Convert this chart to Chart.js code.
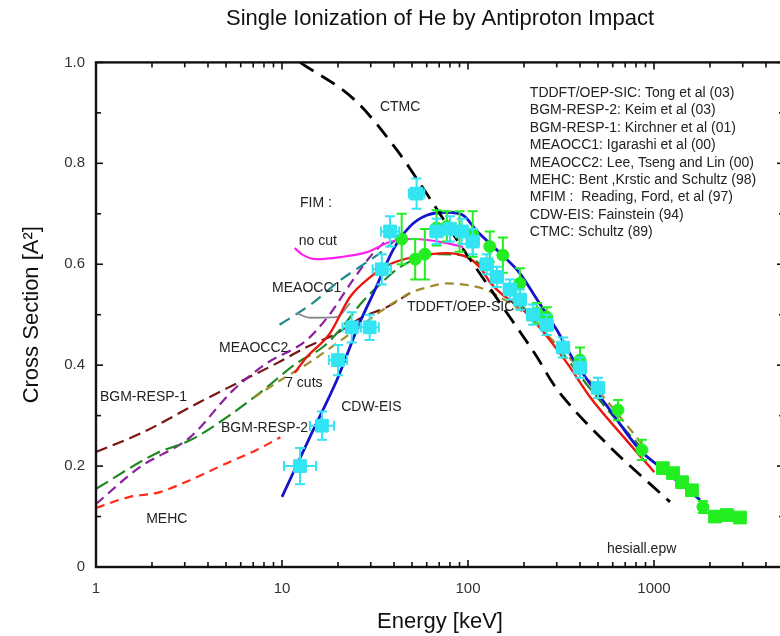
<!DOCTYPE html>
<html><head><meta charset="utf-8">
<title>Single Ionization of He by Antiproton Impact</title>
<script src="https://cdn.jsdelivr.net/npm/chart.js@4.4.1/dist/chart.umd.min.js"></script>
<style>
html,body{margin:0;padding:0;background:#fff;overflow:hidden;width:780px;height:636px;}
#wrap{position:absolute;left:0;top:0;width:800px;height:636px;}
canvas{display:block;}
</style></head><body>
<div id="wrap"><canvas id="chart" width="800" height="636"></canvas></div>
<script>
// ---------------- data ----------------
const titleText = 'Single Ionization of He by Antiproton Impact';
const xTitle = 'Energy [keV]';
const yTitle = 'Cross Section [A\u00B2]';
const xTickValues = [1, 10, 100, 1000];
const xTickLabels = ['1', '10', '100', '1000'];
const yTickValues = [0, 0.2, 0.4, 0.6, 0.8, 1.0];
const yTickLabels = ['0', '0.2', '0.4', '0.6', '0.8', '1.0'];

// CTMC (Schultz 89)
const ctmcE = [12.5, 24.7, 41.5, 55.2, 87.3, 126, 168, 235, 286, 324, 580, 1219];
const ctmcS = [1.0, 0.925, 0.826, 0.760, 0.648, 0.562, 0.495, 0.416, 0.364, 0.337, 0.238, 0.129];
// CDW-EIS (Fainstein 94)
const cdwE = [10, 14.1, 19.7, 26.1, 31.6, 39.5, 48.8, 60, 77, 94, 111, 143, 190, 235, 300, 370, 580, 840, 1080, 1770];
const cdwS = [0.139, 0.257, 0.370, 0.483, 0.549, 0.628, 0.675, 0.697, 0.703, 0.697, 0.667, 0.628, 0.582, 0.530, 0.470, 0.410, 0.311, 0.232, 0.198, 0.133];
// FIM 7 cuts
const fim7E = [11.7, 13.6, 18.1, 23.2, 29.7, 38.1, 50.7, 77, 98.6, 116, 131, 153, 190, 224, 341, 453, 712, 1003];
const fim7S = [0.385, 0.416, 0.463, 0.535, 0.574, 0.600, 0.614, 0.622, 0.614, 0.594, 0.565, 0.540, 0.515, 0.490, 0.404, 0.337, 0.251, 0.188];
// FIM no cut
const fimNoCutE = [11.7, 13, 15.4, 20.5, 28.6, 38, 50.7, 77, 94];
const fimNoCutS = [0.632, 0.618, 0.610, 0.614, 0.624, 0.644, 0.650, 0.642, 0.634];
// MEAOCC1 (solid grey part)
const meaocc1bE = [12, 14.1, 19.7, 23.2];
const meaocc1bS = [0.503, 0.494, 0.495, 0.523];
// MEAOCC1 (dashed)
const meaocc1E = [9.7, 14.6, 20.5, 26, 33, 43];
const meaocc1S = [0.480, 0.523, 0.568, 0.594, 0.620, 0.655];
// MEAOCC2
const meaocc2E = [1, 1.72, 3.2, 5.45, 8.3, 13.6, 18, 24, 30.6, 38];
const meaocc2S = [0.125, 0.198, 0.257, 0.350, 0.404, 0.450, 0.500, 0.568, 0.620, 0.653];
// BGM-RESP-1
const bgm1E = [1, 1.79, 3.62, 5.71, 9.4, 13.6, 19.7, 27, 36.6, 48.8];
const bgm1S = [0.228, 0.267, 0.327, 0.364, 0.404, 0.436, 0.463, 0.495, 0.515, 0.543];
// BGM-RESP-2
const bgm2E = [1, 2.13, 3.2, 5.25, 7.9, 12, 16.6, 20.5, 27, 33.6, 41.5, 50.7, 70, 100, 130, 170, 230, 320, 450, 650, 900];
const bgm2S = [0.155, 0.226, 0.251, 0.301, 0.350, 0.404, 0.436, 0.470, 0.525, 0.560, 0.590, 0.608, 0.620, 0.615, 0.585, 0.545, 0.485, 0.425, 0.355, 0.285, 0.228];
// TDDFT/OEP-SIC
const tddftE = [7, 10, 14, 20, 27, 36.6, 48.8, 60, 77, 102, 126, 148, 190, 250, 350, 500, 700, 900];
const tddftS = [0.335, 0.372, 0.405, 0.445, 0.480, 0.515, 0.543, 0.554, 0.562, 0.558, 0.549, 0.535, 0.510, 0.470, 0.415, 0.350, 0.285, 0.235];
// MEHC
const mehcE = [1, 1.52, 2.13, 3.2, 4.8, 7.3, 9.8];
const mehcS = [0.117, 0.139, 0.147, 0.172, 0.202, 0.232, 0.257];

// Experiment (cyan squares)
const cyanE = [12.5, 16.4, 20, 23.7, 29.6, 34.4, 38.1, 52.9, 67.8, 80, 92.6, 106, 126, 143, 168, 190, 224, 265, 324, 400, 500];
const cyanS = [0.200, 0.280, 0.410, 0.475, 0.475, 0.590, 0.665, 0.740, 0.665, 0.670, 0.665, 0.645, 0.600, 0.575, 0.550, 0.530, 0.500, 0.480, 0.435, 0.395, 0.355];
const cyanErrS = [0.036, 0.028, 0.03, 0.03, 0.025, 0.03, 0.03, 0.03, 0.025, 0.025, 0.025, 0.025, 0.02, 0.02, 0.02, 0.02, 0.02, 0.02, 0.02, 0.02, 0.02];
const cyanErrE = [0.22, 0.16, 0.12, 0.12, 0.12, 0.12, 0.12, 0.10, 0.08, 0.08, 0.08, 0.08, 0.08, 0.08, 0.08, 0.08, 0.08, 0.08, 0.08, 0.08, 0.08];
// Experiment (green circles)
const greenE = [44, 52, 58.6, 67.8, 77, 90, 106, 131, 154, 190, 235, 265, 400, 640, 861, 1833];
const greenS = [0.650, 0.610, 0.620, 0.672, 0.675, 0.665, 0.660, 0.635, 0.618, 0.562, 0.503, 0.495, 0.410, 0.311, 0.232, 0.119];
const greenErrS = [0.05, 0.04, 0.05, 0.035, 0.03, 0.04, 0.045, 0.03, 0.035, 0.03, 0.02, 0.02, 0.025, 0.02, 0.02, 0.012];
// Experiment (green squares)
const greenSqE = [1117, 1265, 1415, 1600, 2128, 2467, 2900];
const greenSqS = [0.196, 0.186, 0.168, 0.152, 0.100, 0.103, 0.098];

// in-plot labels
const annoText = ['CTMC', 'FIM :', 'no cut', 'MEAOCC1', 'MEAOCC2', '7 cuts', 'BGM-RESP-1', 'CDW-EIS', 'BGM-RESP-2', 'MEHC', 'TDDFT/OEP-SIC', 'hesiall.epw'];
const annoE = [33.6, 12.5, 12.3, 8.84, 4.59, 10.4, 1.05, 20.8, 4.7, 1.86, 47, 559];
const annoS = [0.911, 0.721, 0.646, 0.552, 0.434, 0.364, 0.337, 0.317, 0.275, 0.095, 0.515, 0.036];
const legendLines = [
  'TDDFT/OEP-SIC: Tong et al (03)',
  'BGM-RESP-2: Keim et al (03)',
  'BGM-RESP-1: Kirchner et al (01)',
  'MEAOCC1: Igarashi et al (00)',
  'MEAOCC2: Lee, Tseng and Lin (00)',
  'MEHC: Bent ,Krstic and Schultz (98)',
  'MFIM :  Reading, Ford, et al (97)',
  'CDW-EIS: Fainstein (94)',
  'CTMC: Schultz (89)'
];
const legendE = 215, legendS = 0.939;

// ---------------- helpers ----------------
const FONT = '"Liberation Sans", Arial, Helvetica, sans-serif';
Chart.defaults.font.family = FONT;
const pts = (E, S) => E.map((e, i) => ({x: e, y: S[i]}));

function lineDs(label, E, S, color, width, dash, order) {
  return {label, data: pts(E, S), borderColor: color, backgroundColor: color, borderWidth: width,
    borderDash: dash, pointRadius: 0, pointHoverRadius: 0, fill: false, showLine: true,
    cubicInterpolationMode: 'monotone', order: order};
}
function pointDs(label, E, S, color, style, radius, order, errS, errE) {
  return {label, data: pts(E, S), showLine: false, pointStyle: style, pointRadius: radius,
    pointHoverRadius: radius, pointBackgroundColor: color, pointBorderColor: color, pointBorderWidth: 1,
    borderColor: color, backgroundColor: color, order: order, errS: errS, errE: errE, errColor: color};
}

const datasets = [
  lineDs('MEHC', mehcE, mehcS, '#ff2a1a', 2.2, [9, 6], 12),
  lineDs('BGM-RESP-1', bgm1E, bgm1S, '#7a1414', 2.2, [12, 6], 11),
  lineDs('MEAOCC2', meaocc2E, meaocc2S, '#8c1fa0', 2.2, [10, 6], 10),
  lineDs('BGM-RESP-2', bgm2E, bgm2S, '#1f8a1f', 2.2, [14, 6], 9),
  lineDs('TDDFT/OEP-SIC', tddftE, tddftS, '#a08c2c', 2.2, [9, 6], 8),
  lineDs('MEAOCC1', meaocc1E, meaocc1S, '#1f8a8a', 2.2, [12, 7], 7),
  lineDs('MEAOCC1 grey', meaocc1bE, meaocc1bS, '#888888', 1.8, [], 6),
  lineDs('FIM no cut', fimNoCutE, fimNoCutS, '#ff22ee', 2.2, [], 5),
  lineDs('FIM 7 cuts', fim7E, fim7S, '#e8180e', 2.4, [], 4),
  lineDs('CDW-EIS', cdwE, cdwS, '#1414cc', 2.8, [], 3),
  lineDs('CTMC', ctmcE, ctmcS, '#000000', 2.8, [16, 9], 2),
  pointDs('Exp green squares', greenSqE, greenSqS, '#22ee22', 'rect', 9, 1.5, null, null),
  pointDs('Exp green', greenE, greenS, '#22ee22', 'circle', 6, 1, greenErrS, null),
  pointDs('Exp cyan', cyanE, cyanS, '#33e4f2', 'rect', 9, 0, cyanErrS, cyanErrE)
];

// ---------------- plugins ----------------
const errorBars = {
  id: 'errorBars',
  beforeDatasetDraw(chart, args) {
    const ds = chart.data.datasets[args.index];
    if (!ds.errS && !ds.errE) return;
    const {ctx, scales: {x, y}} = chart;
    ctx.save();
    ctx.beginPath();
    ctx.rect(chart.chartArea.left, chart.chartArea.top, chart.chartArea.right - chart.chartArea.left, chart.chartArea.bottom - chart.chartArea.top);
    ctx.clip();
    ctx.strokeStyle = ds.errColor; ctx.lineWidth = 2;
    ds.data.forEach((p, i) => {
      const px = x.getPixelForValue(p.x), py = y.getPixelForValue(p.y);
      ctx.beginPath();
      if (ds.errS) {
        const y1 = y.getPixelForValue(p.y - ds.errS[i]), y2 = y.getPixelForValue(p.y + ds.errS[i]);
        ctx.moveTo(px, y1); ctx.lineTo(px, y2);
        ctx.moveTo(px - 5, y1); ctx.lineTo(px + 5, y1);
        ctx.moveTo(px - 5, y2); ctx.lineTo(px + 5, y2);
      }
      if (ds.errE) {
        const x1 = x.getPixelForValue(p.x / (1 + ds.errE[i])), x2 = x.getPixelForValue(p.x * (1 + ds.errE[i]));
        ctx.moveTo(x1, py); ctx.lineTo(x2, py);
        ctx.moveTo(x1, py - 5); ctx.lineTo(x1, py + 5);
        ctx.moveTo(x2, py - 5); ctx.lineTo(x2, py + 5);
      }
      ctx.stroke();
    });
    ctx.restore();
  }
};

const frameTicks = {
  id: 'frameTicks',
  afterDraw(chart) {
    const {ctx, chartArea: a, scales: {x, y}} = chart;
    ctx.save();
    ctx.strokeStyle = '#111';
    ctx.lineWidth = 1.6;
    const seg = (x1, y1, x2, y2) => { ctx.beginPath(); ctx.moveTo(x1, y1); ctx.lineTo(x2, y2); ctx.stroke(); };
    for (let d = 1; d <= x.max; d *= 10) {
      for (let m = 1; m < 10; m++) {
        const v = d * m;
        if (v > x.max) break;
        const px = x.getPixelForValue(v);
        const len = m === 1 ? 7 : 5;
        seg(px, a.bottom, px, a.bottom - len);
        seg(px, a.top, px, a.top + len);
      }
    }
    for (let i = 0; i <= 10; i++) {
      const py = y.getPixelForValue(i / 10);
      const len = i % 2 === 0 ? 7 : 5;
      seg(a.left, py, a.left + len, py);
      seg(a.right, py, a.right - len, py);
    }
    ctx.lineWidth = 2.4;
    ctx.strokeRect(a.left, a.top, a.right - a.left, a.bottom - a.top);
    ctx.restore();
  }
};

const annotations = {
  id: 'annotations',
  afterDatasetsDraw(chart) {
    const {ctx, scales: {x, y}} = chart;
    ctx.save();
    ctx.fillStyle = '#222';
    ctx.font = '14px ' + FONT;
    ctx.textAlign = 'left';
    ctx.textBaseline = 'middle';
    annoText.forEach((t, i) => ctx.fillText(t, x.getPixelForValue(annoE[i]), y.getPixelForValue(annoS[i])));
    const lx = x.getPixelForValue(legendE), ly = y.getPixelForValue(legendS);
    legendLines.forEach((t, i) => ctx.fillText(t, lx, ly + i * 17.4));
    ctx.restore();
  }
};

// ---------------- chart ----------------
new Chart(document.getElementById('chart'), {
  type: 'line',
  data: {datasets},
  options: {
    responsive: false, animation: false, devicePixelRatio: 1,
    layout: {padding: {left: 0, right: 16, top: 0, bottom: 0}},
    plugins: {
      legend: {display: false}, tooltip: {enabled: false},
      title: {display: true, text: titleText, fullSize: false, color: '#111',
        font: {family: FONT, size: 22, weight: 'normal'}, padding: {top: 6, bottom: 30}}
    },
    scales: {
      x: {
        type: 'logarithmic', min: 1, max: 5000, position: 'bottom',
        afterFit(s) { s.height = 69; },
        afterBuildTicks(s) { s.ticks = xTickValues.map(v => ({value: v})); },
        grid: {display: false, drawTicks: false}, border: {display: false},
        ticks: {autoSkip: false, maxRotation: 0, padding: 13, color: '#333', font: {size: 15},
          callback: (v, i) => xTickLabels[i]},
        title: {display: true, text: xTitle, color: '#111', font: {size: 22}, padding: {top: 0, bottom: 1}}
      },
      y: {
        type: 'linear', min: 0, max: 1, position: 'left',
        afterFit(s) { s.width = 96; },
        afterBuildTicks(s) { s.ticks = yTickValues.map(v => ({value: v})); },
        grid: {display: false, drawTicks: false}, border: {display: false},
        ticks: {padding: 11, color: '#333', font: {size: 15}, callback: (v, i) => yTickLabels[i]},
        title: {display: true, text: yTitle, color: '#111', font: {size: 22}, padding: {top: 19, bottom: 0}}
      }
    }
  },
  plugins: [errorBars, frameTicks, annotations]
});
</script>
</body></html>
